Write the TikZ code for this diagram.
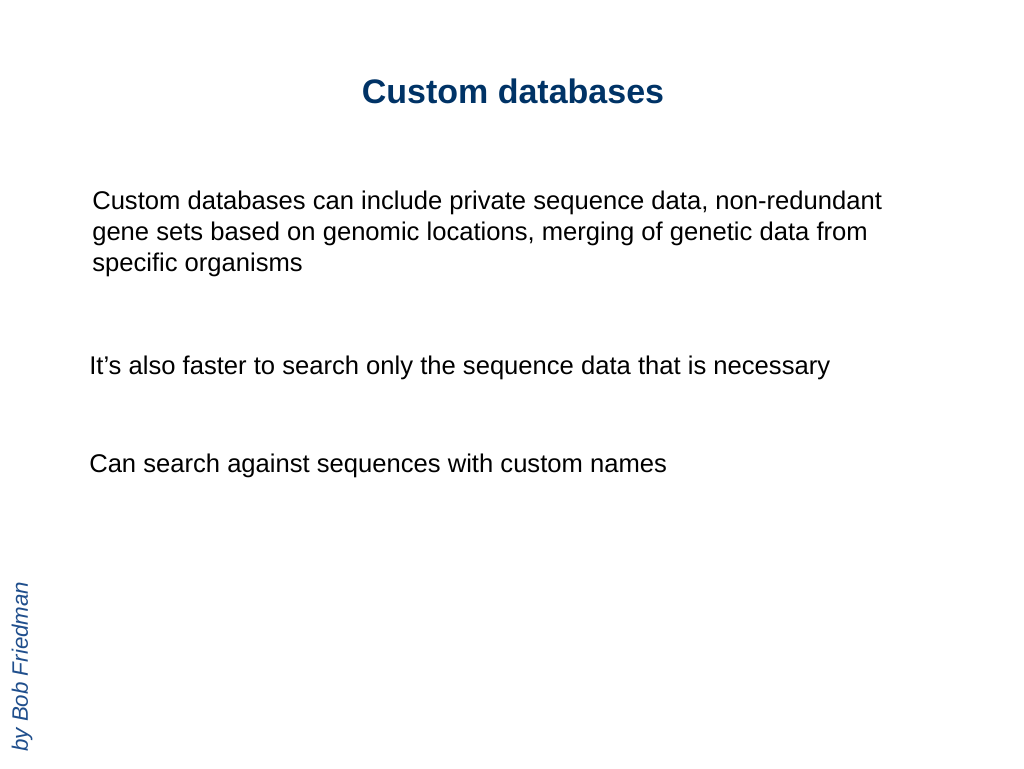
\documentclass[tikz,border=0pt]{standalone}
\usepackage{fontspec}
\setmainfont{Liberation Sans}
\usepackage{xcolor}
\definecolor{titleblue}{HTML}{003366}
\definecolor{sideblue}{HTML}{1F4E8C}
\begin{document}
\begin{tikzpicture}[x=0.75pt,y=-0.75pt]
  \tikzset{bodytext/.style={anchor=west, inner sep=0pt, font=\fontsize{19.2}{23.3}\selectfont, align=left}}
  \useasboundingbox (0,0) rectangle (1024,768);
  \node (title) [font=\fontsize{25.5}{30}\bfseries\selectfont, text=titleblue] at (513,91) {Custom databases};
  \node (para1) [bodytext] at (92,234) {Custom databases can include private sequence data, non-redundant\\gene sets based on genomic locations, merging of genetic data from\\specific organisms};
  \node (para2) [bodytext] at (89,368) {It’s also faster to search only the sequence data that is necessary};
  \node (para3) [bodytext] at (89,466) {Can search against sequences with custom names};
  \node (author) [rotate=90, anchor=west, inner sep=0pt, text=sideblue, font=\fontsize{16.75}{20}\itshape\selectfont] at (22,752) {by Bob Friedman};
\end{tikzpicture}
\end{document}
